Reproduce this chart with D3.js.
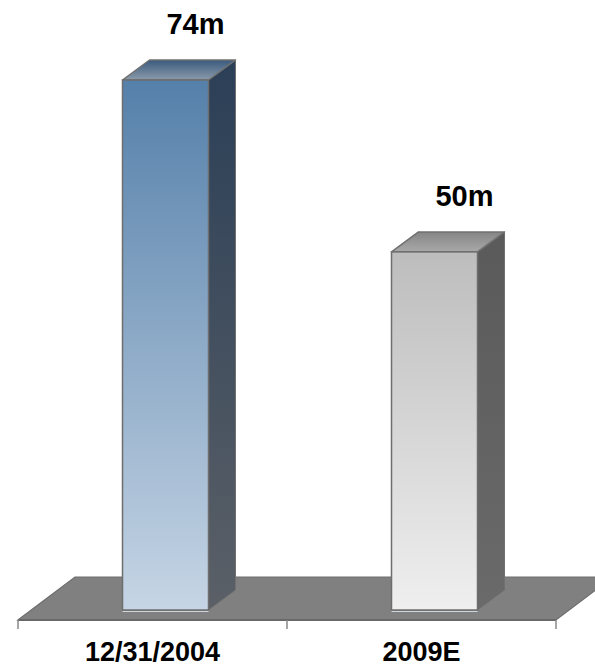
<!DOCTYPE html>
<html>
<head>
<meta charset="utf-8">
<script src="https://cdn.jsdelivr.net/npm/d3@7"></script>
<style>
  html, body { margin: 0; padding: 0; background: #fff; }
  svg { display: block; }
</style>
</head>
<body>
<svg id="chart" width="595" height="667"></svg>
<script>
// ---- data ----
const categories = ["12/31/2004", "2009E"];
const values = [74, 50];
const valueLabels = ["74m", "50m"];

// ---- styles per bar ----
const palettes = [
  { frontTop: "#5580aa", frontBot: "#c6d5e5", sideTop: "#2b3f57", sideBot: "#5b6067", topBack: "#3a5a7e", topFront: "#8b9baa" },
  { frontTop: "#bdbdbd", frontBot: "#efefef", sideTop: "#5a5a5a", sideBot: "#6a6a6a", topBack: "#858585", topFront: "#a9a9a9" }
];

const svg = d3.select("#chart");

const floorFrontY = 620;
const floorDepth = { dx: 57, dy: -43 };
const barDepth = { dx: 27, dy: -20 };
const barInset = { dx: 13, dy: -10 };
const barW = 86;

const x = d3.scaleBand().domain(categories).range([18, 556]).padding(0);
const y = d3.scaleLinear().domain([0, 74]).range([floorFrontY + barInset.dy, 80]);

const defs = svg.append("defs");
palettes.forEach((p, i) => {
  const g1 = defs.append("linearGradient").attr("id", "front" + i).attr("x1", 0).attr("y1", 0).attr("x2", 0).attr("y2", 1);
  g1.append("stop").attr("offset", "0%").attr("stop-color", p.frontTop);
  g1.append("stop").attr("offset", "100%").attr("stop-color", p.frontBot);
  const g2 = defs.append("linearGradient").attr("id", "side" + i).attr("x1", 0).attr("y1", 0).attr("x2", 0).attr("y2", 1);
  g2.append("stop").attr("offset", "0%").attr("stop-color", p.sideTop);
  g2.append("stop").attr("offset", "100%").attr("stop-color", p.sideBot);
  const g3 = defs.append("linearGradient").attr("id", "top" + i).attr("x1", 0).attr("y1", 0).attr("x2", 0).attr("y2", 1);
  g3.append("stop").attr("offset", "0%").attr("stop-color", p.topBack);
  g3.append("stop").attr("offset", "100%").attr("stop-color", p.topFront);
});

// ---- floor ----
const [r0, r1] = x.range();
const floorPts = [
  [r0, floorFrontY],
  [r1, floorFrontY],
  [r1 + floorDepth.dx, floorFrontY + floorDepth.dy],
  [r0 + floorDepth.dx, floorFrontY + floorDepth.dy]
];
svg.append("polygon")
  .attr("points", floorPts.map(p => p.join(",")).join(" "))
  .attr("fill", "#808080")
  .attr("stroke", "#6e6e6e")
  .attr("stroke-width", 1.2);
svg.append("line")
  .attr("x1", r0).attr("x2", r1)
  .attr("y1", floorFrontY).attr("y2", floorFrontY)
  .attr("stroke", "#686868").attr("stroke-width", 2);

// tick marks at band edges
const edges = categories.map(c => x(c)).concat([x(categories[categories.length - 1]) + x.bandwidth()]);
svg.selectAll("line.tick-edge").data(edges).enter().append("line")
  .attr("class", "tick-edge")
  .attr("x1", d => d).attr("x2", d => d)
  .attr("y1", floorFrontY).attr("y2", floorFrontY + 9)
  .attr("stroke", "#888").attr("stroke-width", 1.5);

// ---- bars ----
const bars = svg.selectAll("g.bar").data(values).enter().append("g").attr("class", "bar");
bars.each(function(v, i) {
  const g = d3.select(this);
  const x0 = x(categories[i]) + (x.bandwidth() - barW) / 2 + barInset.dx;
  const x1 = x0 + barW;
  const yb = y(0);
  const yt = y(v);
  const dx = barDepth.dx, dy = barDepth.dy;
  g.append("polygon")
    .attr("points", [[x1, yt], [x1 + dx, yt + dy], [x1 + dx, yb + dy], [x1, yb]].map(p => p.join(",")).join(" "))
    .attr("fill", `url(#side${i})`)
    .attr("stroke", "#707070").attr("stroke-width", 1);
  g.append("polygon")
    .attr("points", [[x0, yt], [x0 + dx, yt + dy], [x1 + dx, yt + dy], [x1, yt]].map(p => p.join(",")).join(" "))
    .attr("fill", `url(#top${i})`)
    .attr("stroke", "#707070").attr("stroke-width", 1.5)
    .attr("stroke-linejoin", "round");
  g.append("rect")
    .attr("x", x0).attr("y", yt)
    .attr("width", barW).attr("height", yb - yt)
    .attr("fill", `url(#front${i})`)
    .attr("stroke", "#6e6e6e").attr("stroke-width", 1.5);
  g.append("line")
    .attr("x1", x0).attr("x2", x1)
    .attr("y1", yb + 1.5).attr("y2", yb + 1.5)
    .attr("stroke", "#cfd6dc").attr("stroke-width", 1);
  g.append("text")
    .attr("x", (x0 + x1) / 2 + 30)
    .attr("y", yt - 46)
    .attr("text-anchor", "middle")
    .attr("font-family", "Liberation Sans, Arial, sans-serif")
    .attr("font-weight", "bold")
    .attr("font-size", 29)
    .attr("fill", "#000")
    .text(valueLabels[i]);
});

// ---- category axis labels ----
const axis = d3.axisBottom(x).tickSize(0).tickPadding(0);
const axG = svg.append("g").attr("transform", `translate(0,${floorFrontY})`).call(axis);
axG.select(".domain").remove();
axG.selectAll("text")
  .attr("y", 41)
  .attr("dy", 0)
  .attr("font-family", "Liberation Sans, Arial, sans-serif")
  .attr("font-weight", "bold")
  .attr("font-size", 27)
  .attr("fill", "#000");
</script>
</body>
</html>
